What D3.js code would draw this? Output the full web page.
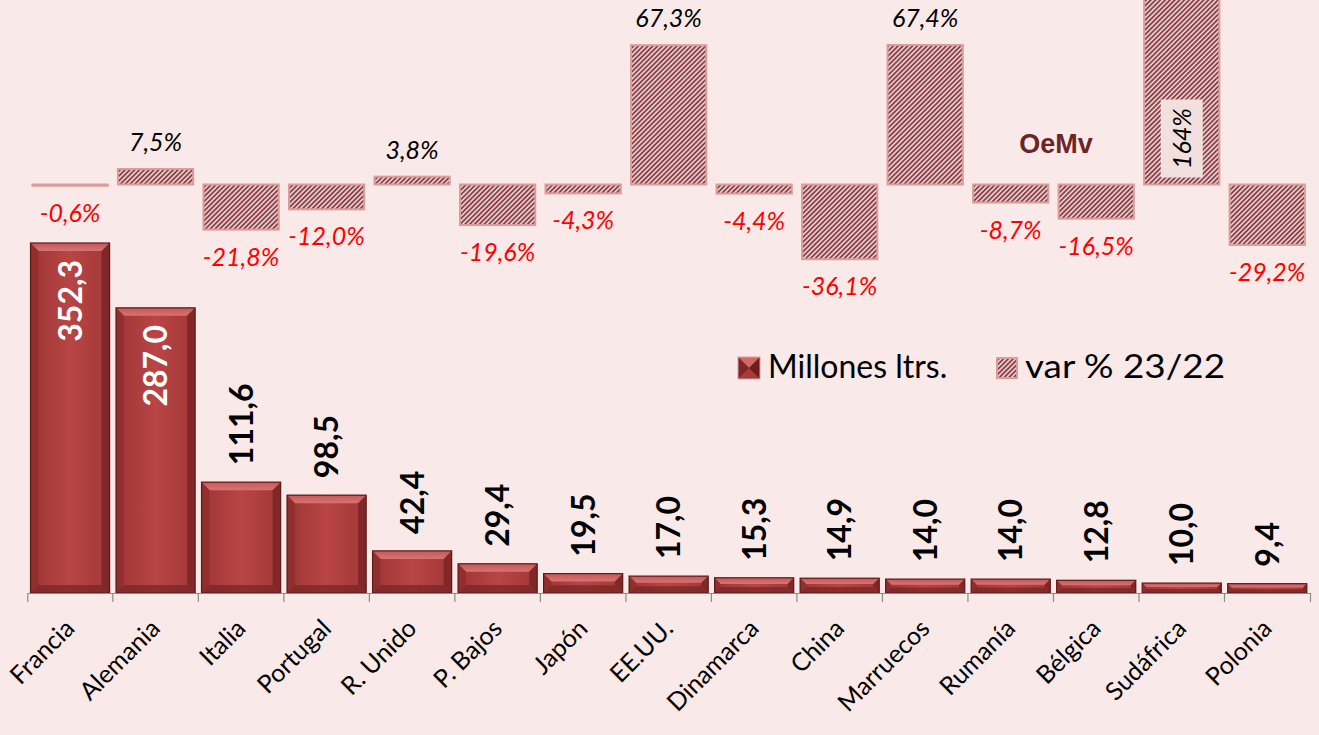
<!DOCTYPE html>
<html><head><meta charset="utf-8">
<script src="https://cdn.jsdelivr.net/npm/d3@7"></script>
<style>
html,body{margin:0;padding:0;background:#f9e9e8;}
svg{display:block;}
</style></head><body>
<svg id="chart" width="1319" height="735"></svg>
<script>
const categories = ["Francia","Alemania","Italia","Portugal","R. Unido","P. Bajos","Japón","EE.UU.","Dinamarca","China","Marruecos","Rumanía","Bélgica","Sudáfrica","Polonia"];
const millones = [352.3,287.0,111.6,98.5,42.4,29.4,19.5,17.0,15.3,14.9,14.0,14.0,12.8,10.0,9.4];
const varPct = [-0.6,7.5,-21.8,-12.0,3.8,-19.6,-4.3,67.3,-4.4,-36.1,67.4,-8.7,-16.5,164,-29.2];
const legendLabels = ["Millones ltrs.","var % 23/22"];
const brand = "OeMv";

const W = 1319, H = 735;
const svg = d3.select("#chart");
svg.append("rect").attr("width", W).attr("height", H).attr("fill", "#f9e9e8");

const locale = d3.formatLocale({decimal: ",", thousands: ".", grouping: [3], currency: ["", "€"], minus: "-"});
const f1 = locale.format(".1f");
const f0 = locale.format(".0f");
const pctFmt = v => (Math.abs(v) >= 100 ? f0(v) : f1(v)) + "%";

const x = d3.scaleBand().domain(categories).range([27.3, 1310]).paddingInner(0.075).paddingOuter(0.0375);
const xv = d3.scaleBand().domain(categories).range([27.3, 1310]).paddingInner(0.12).paddingOuter(0.06);
const xc = d3.scaleBand().domain(categories).range([27.3, 1310]);
const y = d3.scaleLinear().domain([0, 352.3]).range([593, 243]);
const yv = d3.scaleLinear().domain([0, 10]).range([184.5, 163.8]);

const defs = svg.append("defs");
const P = 3.4;
const pat = defs.append("pattern").attr("id", "hatch").attr("patternUnits", "userSpaceOnUse")
  .attr("width", P).attr("height", P).attr("patternTransform", "rotate(45)");
pat.append("rect").attr("width", P).attr("height", P).attr("fill", "#f2ede2");
pat.append("rect").attr("x", 0).attr("width", 0.35).attr("height", P).attr("fill", "#b06470");
pat.append("rect").attr("x", 0.35).attr("width", 1.55).attr("height", P).attr("fill", "#842a3a");
pat.append("rect").attr("x", 1.9).attr("width", 0.35).attr("height", P).attr("fill", "#b06470");

const body = defs.append("linearGradient").attr("id", "body").attr("x1", 0).attr("x2", 1).attr("y1", 0).attr("y2", 0);
body.append("stop").attr("offset", "0%").attr("stop-color", "#9e3535");
body.append("stop").attr("offset", "50%").attr("stop-color", "#b94545");
body.append("stop").attr("offset", "100%").attr("stop-color", "#a23737");

const topB = defs.append("linearGradient").attr("id", "topBevel").attr("x1", 0).attr("x2", 0).attr("y1", 0).attr("y2", 1);
topB.append("stop").attr("offset", "0%").attr("stop-color", "#c55858");
topB.append("stop").attr("offset", "100%").attr("stop-color", "#d87373");

// main bars
const mainData = categories.map((c, i) => ({c, v: millones[i]}));
const bars = svg.append("g").selectAll("g").data(mainData).join("g");
bars.each(function(d) {
  const g = d3.select(this);
  const x0 = x(d.c), w = x.bandwidth(), y0 = y(d.v), y1 = y(0), h = y1 - y0;
  const b = Math.min(8, h / 2.5, w / 4);
  g.append("rect").attr("x", x0).attr("y", y0).attr("width", w).attr("height", h)
    .attr("fill", "url(#body)");
  g.append("path").attr("d", `M${x0},${y0}H${x0 + w}L${x0 + w - b},${y0 + b}H${x0 + b}Z`).attr("fill", "url(#topBevel)");
  g.append("path").attr("d", `M${x0},${y0}L${x0 + b},${y0 + b}V${y1 - b}L${x0},${y1}Z`).attr("fill", "#8a2c2c").attr("opacity", 0.7);
  g.append("path").attr("d", `M${x0 + w},${y0}L${x0 + w - b},${y0 + b}V${y1 - b}L${x0 + w},${y1}Z`).attr("fill", "#762222").attr("opacity", 0.75);
  g.append("path").attr("d", `M${x0},${y1}L${x0 + b},${y1 - b}H${x0 + w - b}L${x0 + w},${y1}Z`).attr("fill", "#7a2525").attr("opacity", 0.75);
  g.append("rect").attr("x", x0).attr("y", y0).attr("width", w).attr("height", h)
    .attr("fill", "none").attr("stroke", "#5c1a1a").attr("stroke-width", 1.2);
});

// main value labels
svg.append("g").selectAll("text").data(mainData).join("text")
  .attr("transform", d => {
    const cx = x(d.c) + x.bandwidth() / 2;
    const inside = d.v > 200;
    return `translate(${cx},${inside ? y(d.v) + 17 : y(d.v) - 17}) rotate(-90)`;
  })
  .attr("text-anchor", d => d.v > 200 ? "end" : "start")
  .attr("dy", "0.36em")
  .attr("font-family", "Lato, 'Open Sans', sans-serif")
  .attr("font-weight", "bold")
  .attr("font-size", 32)
  .attr("fill", d => d.v > 200 ? "#ffffff" : "#000000")
  .text(d => f1(d.v));

// variation bars
const varData = categories.map((c, i) => ({c, v: varPct[i]}));
svg.append("g").selectAll("rect").data(varData).join("rect")
  .attr("x", d => xv(d.c))
  .attr("y", d => Math.min(yv(d.v), yv(0)))
  .attr("width", xv.bandwidth())
  .attr("height", d => Math.abs(yv(d.v) - yv(0)))
  .attr("fill", "url(#hatch)")
  .attr("stroke", "#dc9c9c")
  .attr("stroke-width", 2);

// variation labels
const vl = svg.append("g").attr("font-family", "Lato, 'Open Sans', sans-serif").attr("font-style", "italic").attr("font-size", 25);
varData.forEach(d => {
  const cx = xv(d.c) + xv.bandwidth() / 2;
  if (d.v < 0) {
    vl.append("text").attr("x", cx).attr("y", yv(d.v) + 36).attr("text-anchor", "middle").attr("fill", "#ff0000").text(pctFmt(d.v));
  } else if (yv(d.v) > 0) {
    vl.append("text").attr("x", cx).attr("y", yv(d.v) - 18).attr("text-anchor", "middle").attr("fill", "#000000").text(pctFmt(d.v));
  } else {
    const cy = yv(0) - 46;
    vl.append("rect").attr("x", cx - 21).attr("y", cy - 39).attr("width", 42).attr("height", 78).attr("fill", "#f2e0de");
    vl.append("text").attr("transform", `translate(${cx},${cy}) rotate(-90)`).attr("text-anchor", "middle").attr("dy", "0.36em").attr("fill", "#000000").text(pctFmt(d.v));
  }
});

// axis
const axis = d3.axisBottom(xc).tickSize(0).tickSizeOuter(9).tickPadding(0);
const gx = svg.append("g").attr("transform", `translate(0,${y(0)})`).call(axis);
gx.select(".domain").attr("stroke", "#8c8c8c").attr("stroke-width", 1.2);
gx.attr("font-family", "Lato, 'Open Sans', sans-serif").attr("font-size", 25);
gx.selectAll(".tick text")
  .attr("x", 0).attr("y", 0).attr("dy", 0)
  .attr("text-anchor", "end")
  .attr("fill", "#000")
  .attr("transform", "translate(6,37) rotate(-45)");
gx.selectAll(".bound").data(categories.slice(1)).join("line").attr("class", "bound")
  .attr("x1", d => xc(d)).attr("x2", d => xc(d)).attr("y1", 0).attr("y2", 9)
  .attr("stroke", "#8c8c8c").attr("stroke-width", 1.2);

// legend
const lg = svg.append("g").attr("font-family", "Lato, 'Open Sans', sans-serif").attr("font-size", 32).attr("fill", "#000");
const m1x = 738, m1y = 357, ms = 22;
lg.append("rect").attr("x", m1x).attr("y", m1y).attr("width", ms).attr("height", ms).attr("fill", "#a83a3a");
lg.append("path").attr("d", `M${m1x},${m1y}H${m1x + ms}L${m1x + ms / 2},${m1y + ms / 2}Z`).attr("fill", "#d06868");
lg.append("path").attr("d", `M${m1x},${m1y}V${m1y + ms}L${m1x + ms / 2},${m1y + ms / 2}Z`).attr("fill", "#7e2626");
lg.append("path").attr("d", `M${m1x + ms},${m1y}V${m1y + ms}L${m1x + ms / 2},${m1y + ms / 2}Z`).attr("fill", "#6e1e1e");
lg.append("rect").attr("x", m1x).attr("y", m1y).attr("width", ms).attr("height", ms).attr("fill", "none").attr("stroke", "#d9a0a0").attr("stroke-width", 1);
lg.append("text").attr("x", 768).attr("y", 378).text(legendLabels[0]);
lg.append("rect").attr("x", 997).attr("y", 358).attr("width", 20).attr("height", 20).attr("fill", "url(#hatch)").attr("stroke", "#dc9c9c").attr("stroke-width", 2);
lg.append("text").attr("x", 1025).attr("y", 378).attr("textLength", 200).attr("lengthAdjust", "spacingAndGlyphs").text(legendLabels[1]);

// brand
svg.append("text").attr("x", 1056).attr("y", 153).attr("text-anchor", "middle")
  .attr("font-family", "'Liberation Sans', Arial, sans-serif").attr("font-weight", "bold").attr("font-size", 27)
  .attr("fill", "#6e2424").text(brand);
</script>
</body></html>
